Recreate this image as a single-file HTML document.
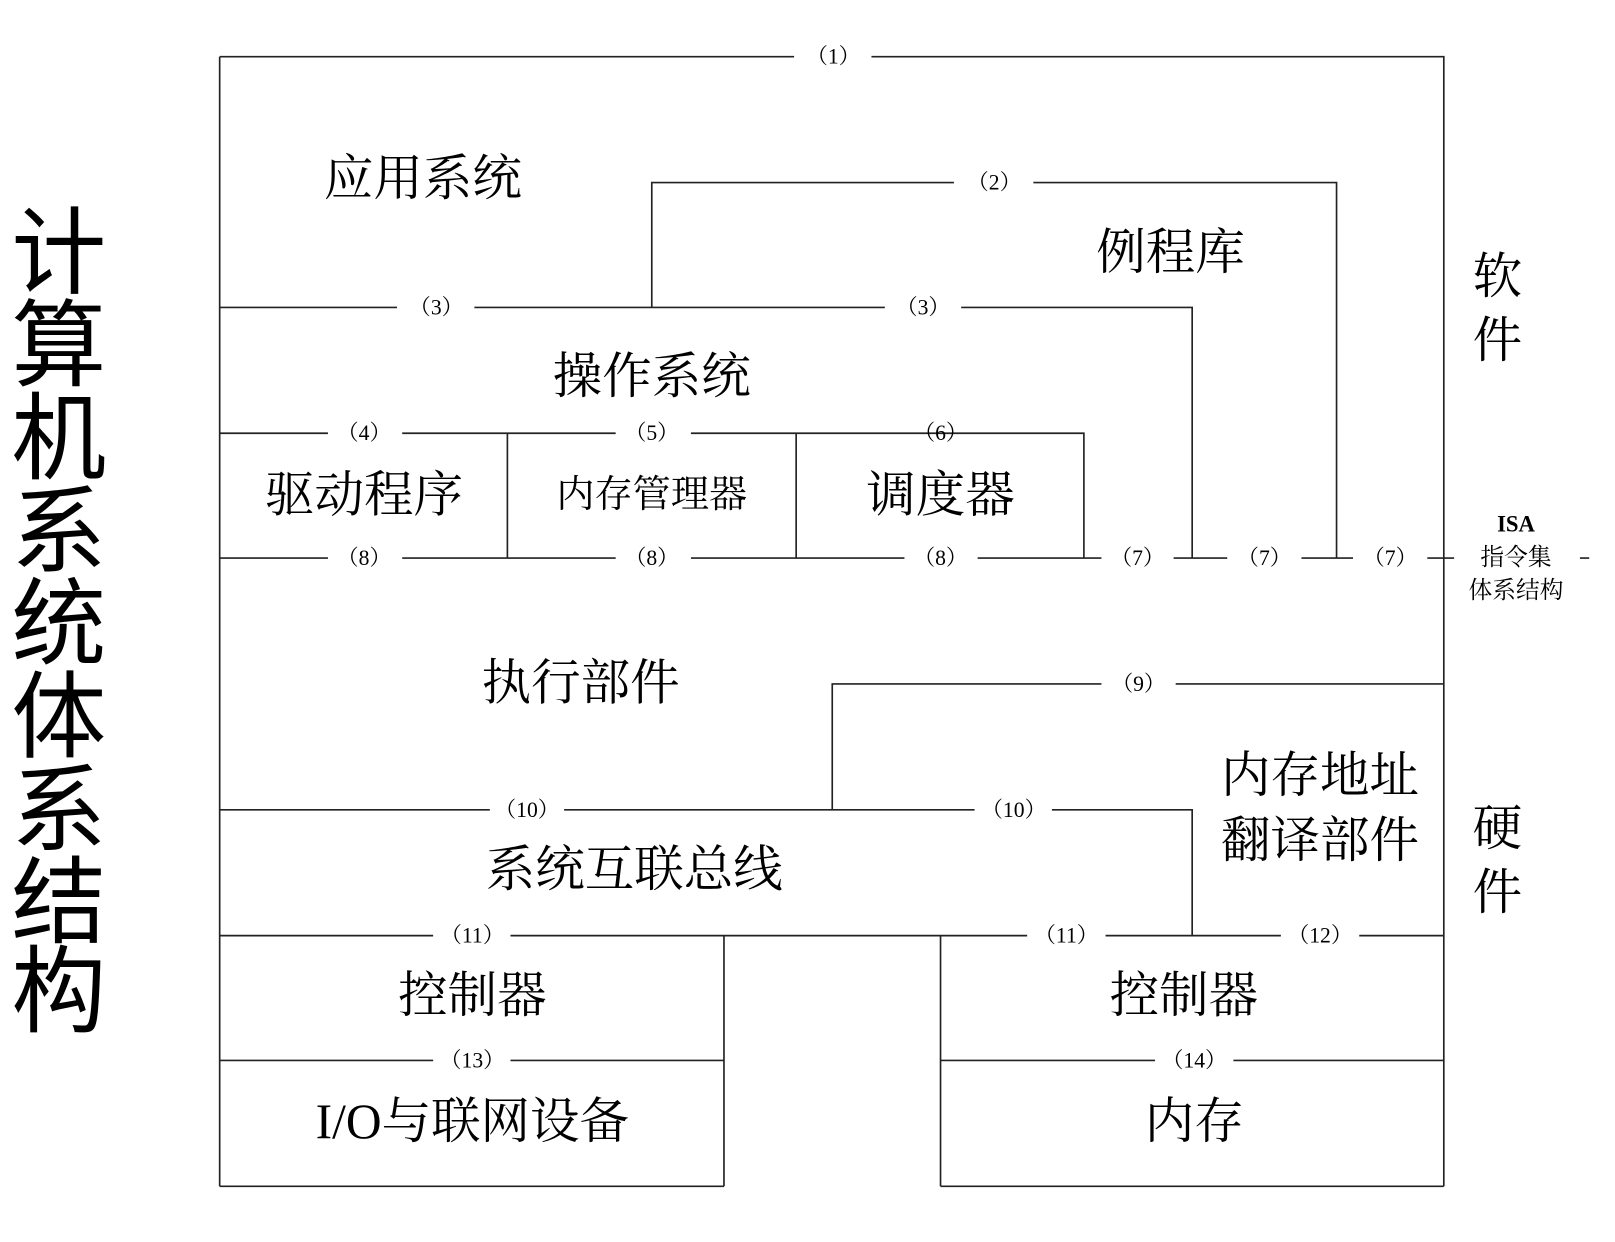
<!DOCTYPE html>
<html><head><meta charset="utf-8"><style>
html,body{margin:0;padding:0;background:#fff;}
svg{display:block;}
.s{font-family:"Liberation Serif","Noto Serif CJK SC",serif;fill:#000;}
.l{font-size:21px;}
.b{font-size:48px;}
</style></head><body>
<svg width="1615" height="1242" viewBox="0 0 1566 1204" preserveAspectRatio="none" xmlns="http://www.w3.org/2000/svg">
<g stroke="#222" stroke-width="1.6" fill="none">
<!-- outer -->
<path d="M213 55 H770 M845 55 H1400 V1150 M213 55 V1150"/>
<!-- (2) -->
<path d="M632 298 V177 H925 M1002 177 H1296 V541"/>
<!-- (3) -->
<path d="M213 298 H385 M460 298 H858 M932 298 H1156 V541"/>
<!-- y420 -->
<path d="M213 420 H318 M390 420 H597 M670 420 H1051 V541 M492 420 V541 M772 420 V541"/>
<!-- y541 -->
<path d="M213 541 H318 M390 541 H597 M670 541 H877 M948 541 H1068 M1138 541 H1190 M1262 541 H1312 M1384 541 H1410 M1532 541 H1541"/>
<!-- (9) -->
<path d="M807 785 V663 H1068 M1140 663 H1400"/>
<!-- y785 -->
<path d="M213 785 H475 M547 785 H945 M1020 785 H1156 V907"/>
<!-- y907 -->
<path d="M213 907 H420 M495 907 H996 M1072 907 H1242 M1318 907 H1400 M702 907 V1150 M912 907 V1150"/>
<!-- y1028 -->
<path d="M213 1028 H420 M495 1028 H702 M912 1028 H1120 M1196 1028 H1400"/>
<!-- bottom -->
<path d="M213 1150 H702 M912 1150 H1400"/>
</g>
<g class="s l" text-anchor="middle" dominant-baseline="central">
<text x="808" y="55">（1）</text>
<text x="964" y="177">（2）</text>
<text x="423" y="298">（3）</text>
<text x="895" y="298">（3）</text>
<text x="353" y="420">（4）</text>
<text x="632" y="420">（5）</text>
<text x="912" y="420">（6）</text>
<text x="353" y="541">（8）</text>
<text x="632" y="541">（8）</text>
<text x="912" y="541">（8）</text>
<text x="1103" y="541">（7）</text>
<text x="1226" y="541">（7）</text>
<text x="1348" y="541">（7）</text>
<text x="1104" y="663">（9）</text>
<text x="511" y="785">（10）</text>
<text x="983" y="785">（10）</text>
<text x="458" y="907">（11）</text>
<text x="1034" y="907">（11）</text>
<text x="1280" y="907">（12）</text>
<text x="458" y="1028">（13）</text>
<text x="1158" y="1028">（14）</text>
</g>
<g class="s b" text-anchor="middle" dominant-baseline="central">
<text x="410" y="173">应用系统</text>
<text x="1135" y="245">例程库</text>
<text x="632" y="365">操作系统</text>
<text x="353" y="480">驱动程序</text>
<text x="632" y="480" style="font-size:37px">内存管理器</text>
<text x="912" y="480">调度器</text>
<text x="563" y="662">执行部件</text>
<text x="1280" y="752">内存地址</text>
<text x="1280" y="815">翻译部件</text>
<text x="615" y="843">系统互联总线</text>
<text x="458" y="965">控制器</text>
<text x="1148" y="965">控制器</text>
<text x="458" y="1087">I/O与联网设备</text>
<text x="1158" y="1087">内存</text>
<text x="1452" y="268">软</text>
<text x="1452" y="330">件</text>
<text x="1452" y="803">硬</text>
<text x="1452" y="865">件</text>
<text x="1470" y="508" style="font-size:22px;font-weight:bold">ISA</text>
<text x="1470" y="541" style="font-size:23px">指令集</text>
<text x="1470" y="573" style="font-size:23px">体系结构</text>
</g>
<g style="font-family:'Liberation Sans','Noto Sans CJK SC',sans-serif;font-size:92px" text-anchor="middle" dominant-baseline="central" fill="#000">
<text x="57" y="246">计</text>
<text x="57" y="336">算</text>
<text x="57" y="426">机</text>
<text x="57" y="516">系</text>
<text x="57" y="606">统</text>
<text x="57" y="696">体</text>
<text x="57" y="786">系</text>
<text x="57" y="876">结</text>
<text x="57" y="962">构</text>
</g>
</svg>
</body></html>
